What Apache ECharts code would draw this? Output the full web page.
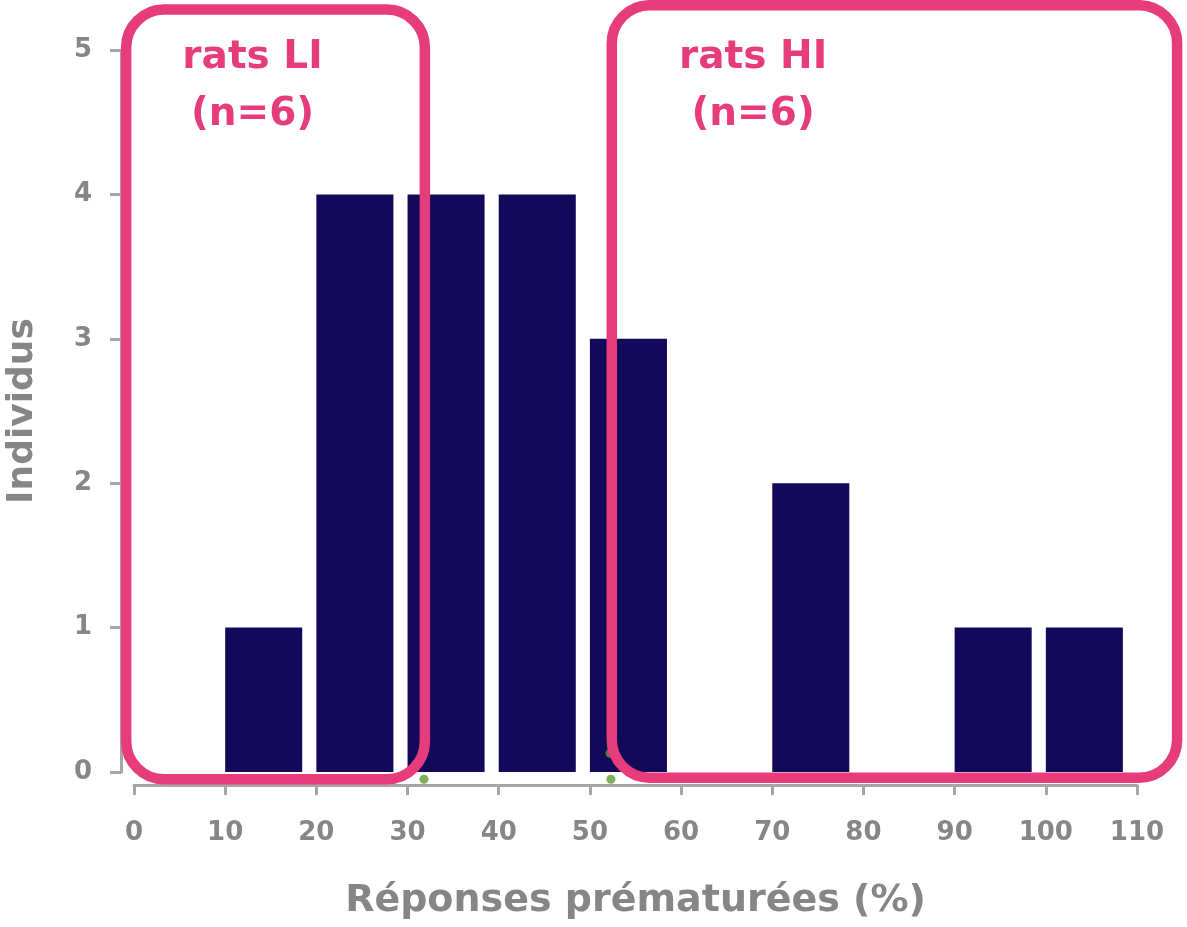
<!DOCTYPE html>
<html>
<head>
<meta charset="utf-8">
<script src="https://cdn.jsdelivr.net/npm/echarts@6/dist/echarts.min.js"></script>
<style>
html,body{margin:0;padding:0;background:#fff;}
#chart{width:1187px;height:927px;}
</style>
</head>
<body>
<div id="chart"></div>
<script>
// ---- data ----
var binStarts = [10, 20, 30, 40, 50, 60, 70, 80, 90, 100];
var counts    = [1, 4, 4, 4, 3, 0, 2, 0, 1, 1];
var xTicks = [0, 10, 20, 30, 40, 50, 60, 70, 80, 90, 100, 110];
var yTicks = [0, 1, 2, 3, 4, 5];
var groupNames = ['rats LI', 'rats HI'];
var groupN = [6, 6];
// group frames in data units: [xStart, yTop, xEnd, yBottom, labelX, labelY]
var groupLI = [-0.86, 5.28, 31.9, -0.05, 13.0, 4.75];
var groupHI = [52.4, 5.31, 114.4, -0.04, 67.9, 4.75];
// stray green points visible in the figure
var strayPoints = [[31.8, -0.05], [52.3, -0.05], [52.2, 0.13]];

var BAR_W = 8.45;
var GRAY = '#868686';
var AXIS = '#a6a6a6';
var PINK = '#E63C7B';
var NAVY = '#12095A';
var FONT = 'DejaVu Sans';

var chart = echarts.init(document.getElementById('chart'));

var barData = binStarts.map(function (b, i) { return [b, counts[i]]; });
var groupData = [groupLI.concat([0]), groupHI.concat([1])];

chart.setOption({
  animation: false,
  backgroundColor: '#fff',
  grid: { left: 134, right: 50, top: 50, bottom: 155, containLabel: false, outerBoundsMode: 'none' },
  xAxis: {
    type: 'value', min: xTicks[0], max: xTicks[xTicks.length - 1], interval: 10,
    offset: 13,
    name: 'Réponses prématurées (%)', nameLocation: 'middle', nameGap: 97,
    nameTextStyle: { color: GRAY, fontSize: 38, fontWeight: 'bold', fontFamily: FONT },
    axisLine: { show: true, onZero: false, lineStyle: { color: AXIS, width: 3 } },
    axisTick: { show: true, length: 10, lineStyle: { color: AXIS, width: 3 } },
    axisLabel: { color: GRAY, fontSize: 26, fontWeight: 'bold', fontFamily: FONT, margin: 35 },
    splitLine: { show: false }
  },
  yAxis: {
    type: 'value', min: yTicks[0], max: yTicks[yTicks.length - 1], interval: 1,
    offset: 13,
    name: 'Individus', nameLocation: 'middle', nameGap: 80,
    nameTextStyle: { color: GRAY, fontSize: 36, fontWeight: 'bold', fontFamily: FONT },
    axisLine: { show: true, onZero: false, lineStyle: { color: AXIS, width: 3 } },
    axisTick: { show: true, length: 11, lineStyle: { color: AXIS, width: 3 } },
    axisLabel: { color: GRAY, fontSize: 26, fontWeight: 'bold', fontFamily: FONT, margin: 29 },
    splitLine: { show: false }
  },
  series: [
    {
      type: 'custom',
      z: 2,
      clip: false,
      data: barData,
      renderItem: function (params, api) {
        var x = api.value(0), y = api.value(1);
        if (!y) return null;
        var p0 = api.coord([x, y]);
        var p1 = api.coord([x + BAR_W, 0]);
        return {
          type: 'rect',
          shape: { x: p0[0], y: p0[1], width: p1[0] - p0[0], height: p1[1] - p0[1] },
          style: { fill: NAVY }
        };
      }
    },
    {
      type: 'scatter',
      z: 3,
      symbolSize: 9,
      itemStyle: { color: '#5E9E2E' },
      data: strayPoints,
      clip: false
    },
    {
      type: 'custom',
      z: 5,
      clip: false,
      data: groupData,
      renderItem: function (params, api) {
        var p0 = api.coord([api.value(0), api.value(1)]);
        var p1 = api.coord([api.value(2), api.value(3)]);
        var lp = api.coord([api.value(4), api.value(5)]);
        var idx = api.value(6);
        return {
          type: 'group',
          children: [
            {
              type: 'rect',
              shape: { x: p0[0], y: p0[1], width: p1[0] - p0[0], height: p1[1] - p0[1], r: 38 },
              style: { fill: 'none', stroke: PINK, lineWidth: 10.5 }
            },
            {
              type: 'text',
              style: {
                x: lp[0], y: lp[1],
                text: groupNames[idx] + '\n(n=' + groupN[idx] + ')',
                fill: PINK, font: 'bold 39px "DejaVu Sans"',
                align: 'center', verticalAlign: 'middle', lineHeight: 57
              }
            }
          ]
        };
      }
    }
  ]
});
</script>
</body>
</html>
